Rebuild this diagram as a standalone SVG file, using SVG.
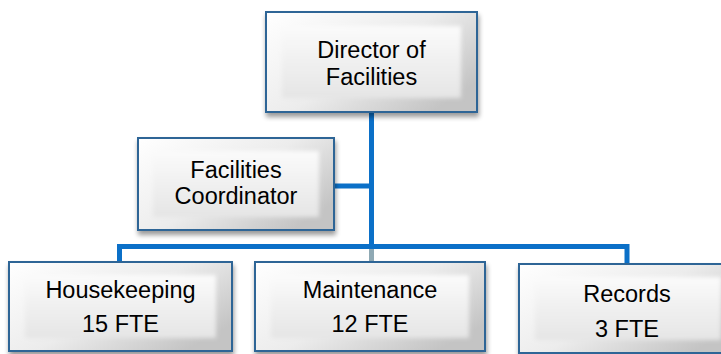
<svg xmlns="http://www.w3.org/2000/svg" width="721" height="354" viewBox="0 0 721 354">
<defs>
<linearGradient id="outer" x1="0" y1="0" x2="1" y2="0.7">
<stop offset="0" stop-color="#ffffff"/>
<stop offset="0.55" stop-color="#ececec"/>
<stop offset="1" stop-color="#c4c4c4"/>
</linearGradient>
<linearGradient id="inner" x1="0" y1="0" x2="0" y2="1">
<stop offset="0" stop-color="#fbfbfb"/>
<stop offset="1" stop-color="#e5e5e5"/>
</linearGradient>
<filter id="sh" x="-10%" y="-10%" width="120%" height="130%">
<feGaussianBlur in="SourceAlpha" stdDeviation="2.5"/>
<feOffset dx="1" dy="4" result="b"/>
<feComponentTransfer><feFuncA type="linear" slope="0.4"/></feComponentTransfer>
<feMerge><feMergeNode/><feMergeNode in="SourceGraphic"/></feMerge>
</filter>
<filter id="soft" x="-5%" y="-5%" width="110%" height="110%">
<feGaussianBlur stdDeviation="2"/>
</filter>
</defs>
<style>
.box{fill:url(#outer);stroke:#2f6596;stroke-width:2;filter:url(#sh)}
.in{fill:url(#inner);filter:url(#soft)}
.t{font-family:"Liberation Sans",Arial,sans-serif;font-size:23.5px;fill:#000;text-anchor:middle}
.c{fill:none;stroke:#0b70c8;stroke-width:5}
</style>
<g id="connectors">
<path class="c" d="M371.5,112 V248"/>
<path class="c" d="M334,186 H371.5"/>
<path class="c" d="M119.5,262 V246.5 H627 V264"/>
<path d="M371.5,249 V262" stroke="#8fa9b4" stroke-width="5" fill="none"/>
</g>
<g id="director">
<rect class="box" x="266" y="12" width="211" height="100"/>
<rect class="in" x="282" y="26" width="179" height="72"/>
<text class="t" x="371.5" y="58">Director of</text>
<text class="t" x="371.5" y="85">Facilities</text>
</g>
<g id="coordinator">
<rect class="box" x="138" y="138" width="196" height="92"/>
<rect class="in" x="153" y="151" width="166" height="66"/>
<text class="t" x="236" y="178">Facilities</text>
<text class="t" x="236" y="204">Coordinator</text>
</g>
<g id="housekeeping">
<rect class="box" x="9" y="262" width="223" height="89"/>
<rect class="in" x="25" y="275" width="191" height="63"/>
<text class="t" x="120.5" y="298">Housekeeping</text>
<text class="t" x="120.5" y="332">15 FTE</text>
</g>
<g id="maintenance">
<rect class="box" x="255" y="262" width="230" height="89"/>
<rect class="in" x="271" y="275" width="198" height="63"/>
<text class="t" x="370" y="298">Maintenance</text>
<text class="t" x="370" y="332">12 FTE</text>
</g>
<g id="records">
<rect class="box" x="519" y="264" width="218" height="89"/>
<rect class="in" x="535" y="277" width="186" height="63"/>
<text class="t" x="627" y="302">Records</text>
<text class="t" x="627" y="337">3 FTE</text>
</g>
</svg>
